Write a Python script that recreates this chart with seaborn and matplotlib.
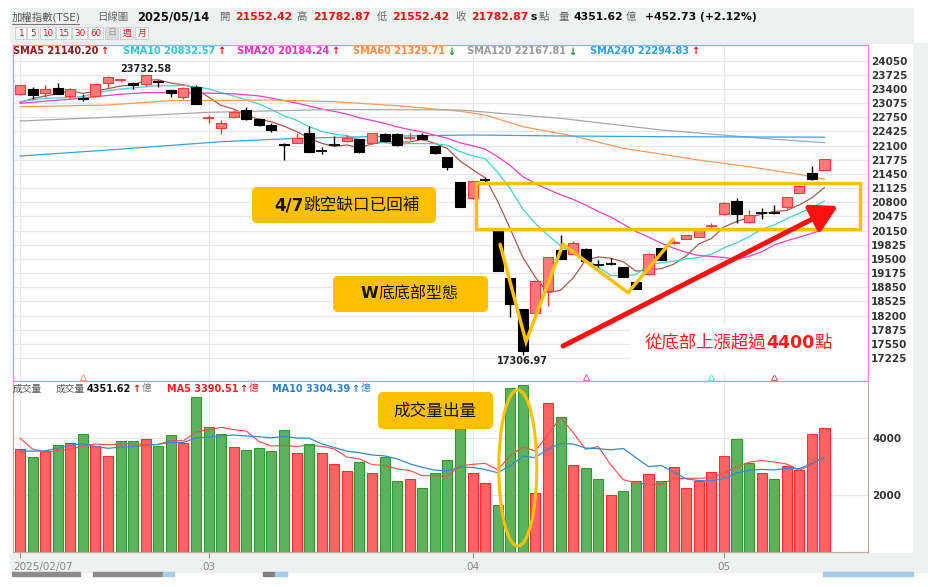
import numpy as np
import pandas as pd
import matplotlib
matplotlib.use("Agg")
import matplotlib.pyplot as plt
import matplotlib.transforms as mtransforms
from matplotlib.patches import Rectangle, FancyBboxPatch, Ellipse
import seaborn as sns

# ---------------- data ----------------
trade_days = pd.bdate_range("2025-02-07", "2025-05-14")
trade_days = trade_days.drop(pd.to_datetime(["2025-02-28", "2025-04-03", "2025-04-04", "2025-05-01"]))

opens = [23279, 23407, 23302, 23423, 23247, 23201, 23247, 23545, 23595, 23545,
         23508, 23591, 23377, 23209, 23453, 22740, 22499, 22765, 22919, 22705,
         22574, 22145, 22168, 22398, 21987, 22131, 22207, 22246, 22168, 22368,
         22368, 22262, 22345, 22092, 21833, 21259, 20892, 21317, 20165, 19056,
         18345, 18253, 18772, 19706, 19614, 19736, 19374, 19410, 19316, 18982,
         19149, 19745, 19857, 19955, 20008, 20248, 20525, 20837, 20355, 20570,
         20575, 20686, 21021, 21478, 21552.42]
highs = [23500, 23453, 23492, 23531, 23423, 23279, 23515, 23690, 23646, 23568,
         23732.58, 23607, 23388, 23453, 23492, 22804, 22689, 22919, 22980, 22735,
         22627, 22150, 22384, 22551, 22062, 22322, 22338, 22264, 22391, 22380,
         22391, 22398, 22398, 22092, 21839, 21266, 21290, 21390, 20188, 19060,
         18352, 19010, 19545, 20040, 19911, 19745, 19477, 19516, 19320, 18990,
         19630, 19750, 19930, 20055, 20185, 20318, 20800, 20892, 20624, 20677,
         20738, 20920, 21205, 21632, 21782.87]
lows = [23260, 23164, 23224, 23286, 23201, 23125, 23228, 23453, 23554, 23407,
        23470, 23453, 23224, 23164, 23045, 22613, 22368, 22746, 22700, 22551,
        22407, 21771, 22150, 21944, 21901, 22092, 22191, 21939, 22161, 22184,
        22092, 22230, 22240, 21909, 21542, 20681, 20880, 21220, 19212, 18175,
        17306.97, 18240, 18421, 19490, 19603, 19450, 19308, 19363, 19080, 18800,
        19140, 19470, 19840, 19950, 20000, 20200, 20520, 20318, 20332, 20417,
        20543, 20647, 21010, 21320, 21552.42]
closes = [23485, 23256, 23394, 23293, 23394, 23164, 23508, 23683, 23600, 23492,
          23730, 23554, 23302, 23416, 23049, 22742, 22613, 22880, 22712, 22574,
          22460, 22108, 22269, 21955, 21977, 22108, 22269, 21955, 22384, 22200,
          22108, 22269, 22255, 21939, 21603, 20686, 21278, 21305, 19231, 18466,
          17392, 19001, 19539, 19506, 19873, 19461, 19355, 19390, 19087, 18808,
          19624, 19477, 19894, 20047, 20177, 20256, 20791, 20525, 20509, 20562,
          20555, 20915, 21166, 21330, 21782.87]
volumes = [3604, 3334, 3533, 3743, 3836, 4129, 3720, 3380, 3884, 3884,
           3977, 3720, 4094, 3825, 5450, 4375, 4129, 3685, 3580, 3650,
           3533, 4270, 3486, 3778, 3474, 3088, 2831, 3158, 2784, 3322,
           2491, 2550, 2234, 2784, 3240, 4340, 2784, 2410, 1649, 5744,
           5860, 2082, 5228, 4726, 3053, 2948, 2550, 2000, 2140, 2491,
           2737, 2491, 2983, 2234, 2491, 2807, 3380, 3965, 3134, 2760,
           2550, 3018, 2877, 4129, 4351.62]

sma5 = [23090, 23180, 23240, 23290, 23364, 23300, 23351, 23408, 23470, 23489,
        23603, 23612, 23536, 23499, 23410, 23213, 23024, 22940, 22799, 22704,
        22648, 22547, 22425, 22273, 22154, 22083, 22116, 22053, 22139, 22183,
        22183, 22183, 22243, 22154, 22035, 21750, 21552, 21362, 20821, 20193,
        19534, 19079, 18726, 18781, 19062, 19476, 19547, 19517, 19433, 19220,
        19253, 19277, 19378, 19570, 19844, 19970, 20233, 20359, 20452, 20529,
        20588, 20613, 20741, 20906, 21140.20]
sma10 = [23110, 23150, 23187, 23195, 23205, 23230, 23300, 23360, 23400, 23427,
         23452, 23481, 23472, 23484, 23450, 23408, 23318, 23238, 23149, 23057,
         22930, 22785, 22682, 22536, 22429, 22365, 22331, 22239, 22206, 22168,
         22133, 22149, 22148, 22146, 22109, 21966, 21867, 21802, 21487, 21114,
         20642, 20315, 20044, 19801, 19627, 19505, 19313, 19121, 19107, 19141,
         19364, 19412, 19447, 19501, 19532, 19611, 19755, 19868, 20011, 20186,
         20279, 20423, 20550, 20679, 20832.57]
sma20 = [23072, 23095, 23120, 23143, 23165, 23195, 23224, 23252, 23280, 23298,
         23316, 23318, 23320, 23315, 23310, 23305, 23300, 23290, 23265, 23242,
         23191, 23133, 23077, 23010, 22940, 22887, 22825, 22739, 22678, 22613,
         22532, 22467, 22415, 22341, 22269, 22166, 22099, 22021, 21847, 21641,
         21388, 21232, 21096, 20974, 20868, 20736, 20590, 20462, 20297, 20128,
         20003, 19864, 19746, 19651, 19580, 19558, 19534, 19495, 19559, 19664,
         19822, 19918, 19999, 20090, 20184.24]
sma60_idx = [0, 7, 12, 17, 20, 25, 30, 35, 37, 40, 44, 48, 54, 58, 62, 64]
sma60_val = [22994, 23033, 23132, 23140, 23148, 23109, 23017, 22890, 22804, 22536,
             22322, 22039, 21771, 21617, 21440, 21329.71]
sma120_idx = [0, 7, 15, 25, 35, 43, 51, 59, 64]
sma120_val = [22666, 22751, 22865, 22930, 22919, 22727, 22460, 22269, 22167.81]
sma240_idx = [0, 7, 16, 22, 30, 36, 43, 51, 64]
sma240_val = [21862, 22000, 22191, 22269, 22320, 22345, 22322, 22306, 22294.83]

vol_ma5 = [3990, 3614, 3500, 3560, 3610, 3715, 3792, 3762, 3790, 3799,
           3769, 3769, 3912, 3900, 4213, 4293, 4375, 4293, 4244, 3884,
           3715, 3744, 3704, 3743, 3708, 3619, 3331, 3266, 3067, 3037,
           2917, 2861, 2676, 2676, 2660, 3030, 3076, 3112, 2885, 3385,
           3689, 3549, 4113, 4728, 4190, 3607, 3701, 3055, 2538, 2426,
           2384, 2372, 2568, 2587, 2587, 2601, 2779, 2975, 3155, 3209,
           3158, 3085, 2868, 3067, 3390.51]
vol_ma10 = [3544, 3540, 3550, 3640, 3740, 3800, 3700, 3640, 3680, 3705,
            3742, 3781, 3837, 3845, 4006, 4031, 4072, 4103, 4072, 4049,
            4004, 4060, 3999, 3994, 3796, 3667, 3538, 3485, 3405, 3373,
            3268, 3096, 2971, 2872, 2849, 2974, 2969, 2894, 2781, 3023,
            3360, 3313, 3613, 3807, 3788, 3648, 3625, 3584, 3633, 3308,
            2996, 3037, 2812, 2563, 2507, 2493, 2576, 2772, 2871, 2898,
            2880, 2932, 2922, 3111, 3304.39]

price_ticks = [17225, 17550, 17875, 18200, 18525, 18850, 19175, 19500, 19825, 20150, 20475,
               20800, 21125, 21450, 21775, 22100, 22425, 22750, 23075, 23400, 23725, 24050]
vol_ticks = [2000, 4000]
month_labels = ["2025/02/07", "03", "04", "05"]

# annotation anchors (candle index, price)
w_x = [38.19, 40.25, 43.2, 48.37, 51.95]
w_y = [19836, 17601, 19836, 18726, 19951]
gap_box = (36.28, 20181, 66.83, 21243)
arrow_from = (43.2, 17502)
arrow_to = (65.07, 20715)

# ---------------- figure ----------------
sns.set_theme(style="white")
plt.rcParams['font.family'] = ['DejaVu Sans', 'Noto Sans CJK TC']

W, H = 929, 587
fig = plt.figure(figsize=(W / 100, H / 100), dpi=100, facecolor='white')


def rect(x0, y0, x1, y1):
    return [x0 / W, 1 - y1 / H, (x1 - x0) / W, (y1 - y0) / H]


# page background (under the chart axes)
ax_back = fig.add_axes([0, 0, 1, 1])
ax_back.set_xlim(0, W)
ax_back.set_ylim(H, 0)
ax_back.axis('off')
GRAY_BG = '#eff0f0'
ax_back.add_patch(Rectangle((10, 8), 903, 35, color=GRAY_BG))
ax_back.add_patch(Rectangle((10, 553), 903, 19, color=GRAY_BG))
ax_back.add_patch(Rectangle((913, 43), 16, 529, color=GRAY_BG))
for bx, bw, bc in [(12, 68, '#8c8c8c'), (93, 70, '#8c8c8c'), (163, 11, '#a8cce8'),
                   (263, 11, '#808080'), (275, 12, '#a8cce8'), (823, 90, '#a8cce8')]:
    ax_back.add_patch(Rectangle((bx, 572), bw, 4, color=bc))

ax_p = fig.add_axes(rect(13, 45, 868, 381))
ax_v = fig.add_axes(rect(13, 383, 868, 552))

n = len(closes)
x = np.arange(n)
o, h, l, c = map(np.array, (opens, highs, lows, closes))
XLIM = (-0.557, 67.46)

s = pd.Series(np.arange(n), index=trade_days)
month_pos = s.groupby(trade_days.to_period('M')).first().values

RED_FACE, RED_EDGE = '#ff7b7b', '#ff3838'
GRID = '#e7e7e7'

# price panel
for p in month_pos:
    ax_p.axvline(p, color=GRID, lw=0.9, zorder=0)

ma_lines = [(x, sma5, '#a85a50'), (x, sma10, '#45d2d2'), (x, sma20, '#f040c0'),
            (sma60_idx, sma60_val, '#ff9a5c'), (sma120_idx, sma120_val, '#a8a8a8'),
            (sma240_idx, sma240_val, '#3aa3dc')]
for xs, ys, col in ma_lines:
    sns.lineplot(x=xs, y=ys, ax=ax_p, color=col, linewidth=0.9, estimator=None,
                 sort=False, legend=False, zorder=2)

rise = c >= o
wick_col = np.where(rise, RED_EDGE, 'black')
ax_p.vlines(x, l, h, colors=wick_col, lw=1.0, zorder=3)
body = np.abs(c - o)
flat = body < 30
face = np.where(rise, RED_FACE, 'black')
ax_p.bar(x[~flat], body[~flat], bottom=np.minimum(o, c)[~flat], width=0.8,
         color=face[~flat], edgecolor=wick_col[~flat], linewidth=0.8, zorder=4)
ax_p.hlines(c[flat], x[flat] - 0.42, x[flat] + 0.42, colors=wick_col[flat], lw=1.3, zorder=4)

i_hi, i_lo = int(np.argmax(h)), int(np.argmin(l))
ax_p.annotate(f"{h[i_hi]:.2f}", xy=(i_hi, h[i_hi]), xytext=(0, 6), textcoords='offset pixels',
              ha='center', va='center', fontsize=7, fontweight='bold', color='#222')
ax_p.annotate(f"{l[i_lo]:.2f}", xy=(i_lo, l[i_lo]), xytext=(0, -6), textcoords='offset pixels',
              ha='center', va='center', fontsize=7, fontweight='bold', color='#222')

# crossover marks at the panel bottom
mk_tr = mtransforms.blended_transform_factory(ax_p.transData, ax_p.transAxes)
for mi, mc in zip([5, 45, 55, 60], ['#ff9a9a', '#f060c8', '#60dede', '#a07070']):
    ax_p.plot([mi], [0.013], marker='^', ms=4.5, mfc='none', mec=mc, mew=0.8,
              transform=mk_tr, clip_on=False, zorder=5)

# W pattern, gap box, arrow
ax_p.plot(w_x, w_y, color='#ffc000', lw=2.5, solid_joinstyle='miter', zorder=6)
ax_p.add_patch(Rectangle((gap_box[0], gap_box[1]), gap_box[2] - gap_box[0], gap_box[3] - gap_box[1],
                         fill=False, ec='#ffc000', lw=2.5, zorder=6))
ax_p.annotate('', xy=arrow_to, xytext=arrow_from,
              arrowprops=dict(arrowstyle='-|>,head_length=0.8,head_width=0.45', mutation_scale=20,
                              lw=3.6, color='#ff1010', shrinkA=0, shrinkB=0), zorder=6)

ax_p.set_xlim(*XLIM)
ax_p.set_ylim(16699, 24410)
ax_p.set_xticks([])
ax_p.set_yticks(price_ticks)
ax_p.yaxis.tick_right()
ax_p.tick_params(axis='y', length=0, pad=2, labelsize=7.5, labelcolor='#333')
for t in ax_p.get_yticklabels():
    t.set_fontweight('bold')
ax_p.grid(True, axis='y', color=GRID, lw=0.9)
ax_p.set_axisbelow(True)
for sp in ax_p.spines.values():
    sp.set_color('#ff88ff')
    sp.set_linewidth(1.0)
ax_p.set_xlabel('')
ax_p.set_ylabel('')

# volume panel
for p in month_pos:
    ax_v.axvline(p, color=GRID, lw=0.9, zorder=0)
vol_up = np.r_[True, c[1:] >= c[:-1]]
ax_v.bar(x, volumes, width=0.8, color=np.where(vol_up, '#ff6464', '#5db35d'),
         edgecolor=np.where(vol_up, '#ff2e2e', '#2f9b2f'), linewidth=0.8, zorder=3)
sns.lineplot(x=x, y=vol_ma5, ax=ax_v, color='#ff4a4a', linewidth=0.8, estimator=None,
             legend=False, zorder=4)
sns.lineplot(x=x, y=vol_ma10, ax=ax_v, color='#3a88cc', linewidth=0.9, estimator=None,
             legend=False, zorder=4)
ax_v.add_patch(Ellipse((39.6, 2947), 3.02, 5474, fill=False, ec='#ffc000', lw=2.2, zorder=6))
ax_v.set_xlim(*XLIM)
ax_v.set_ylim(0, 5930)
ax_v.set_yticks(vol_ticks)
ax_v.yaxis.tick_right()
ax_v.tick_params(axis='y', length=0, pad=3, labelsize=7.5, labelcolor='#333')
for t in ax_v.get_yticklabels():
    t.set_fontweight('bold')
ax_v.set_xticks(month_pos)
ax_v.set_xticklabels(month_labels)
ax_v.tick_params(axis='x', bottom=True, length=4, width=0.8, color='#999', pad=3,
                 labelsize=7.5, labelcolor='#888')
first = ax_v.get_xticklabels()[0]
first.set_ha('left')
first.set_transform(first.get_transform() + mtransforms.ScaledTranslation(-7 / 100, 0, fig.dpi_scale_trans))
ax_v.grid(True, axis='y', color=GRID, lw=0.9)
ax_v.set_axisbelow(True)
for sp in ax_v.spines.values():
    sp.set_color('#b8b0a8')
    sp.set_linewidth(0.9)
ax_v.spines['top'].set_visible(False)
ax_v.set_xlabel('')
ax_v.set_ylabel('')

# ---------------- overlay in pixel coordinates ----------------
ax_bg = fig.add_axes([0, 0, 1, 1])
ax_bg.set_xlim(0, W)
ax_bg.set_ylim(H, 0)
ax_bg.axis('off')


def chain(prev, txt, dx=1.0, **kw):
    return ax_bg.annotate(txt, xy=(1, 0.5), xycoords=prev, xytext=(dx, 0),
                          textcoords='offset pixels', ha='left', va='center', **kw)


def put(xp, yp, txt, **kw):
    return ax_bg.text(xp, yp, txt, ha='left', va='center', **kw)


# header row
hy = 17
GR = '#666'
RD = '#ee1111'
put(12, hy, "加權指數(TSE)", fontsize=7.5, color='#555')
ax_bg.plot([12, 79], [24, 24], color='#777', lw=0.8)
put(97, hy, "日線圖", fontsize=7.5, color=GR)
put(137, hy, "2025/05/14", fontsize=8.3, fontweight='bold', color='#111')
for lab, lx, val, vx in [("開", 219, "21552.42", 235), ("高", 296, "21782.87", 313),
                         ("低", 377, "21552.42", 392), ("收", 455, "21782.87", 471)]:
    put(lx, hy, lab, fontsize=7.5, color=GR)
    put(vx, hy, val, fontsize=7.8, fontweight='bold', color=RD)
put(531, hy, "s", fontsize=7.8, fontweight='bold', color='#111')
put(539, hy, "點", fontsize=7.5, color=GR)
put(559, hy, "量", fontsize=7.5, color=GR)
put(574, hy, "4351.62", fontsize=7.8, fontweight='bold', color='#111')
put(626, hy, "億", fontsize=7.5, color=GR)
put(645, hy, "+452.73 (+2.12%)", fontsize=7.8, fontweight='bold', color='#111')

# period buttons
btn_labels = ["1", "5", "10", "15", "30", "60", "日", "週", "月"]
btn_cx = [21, 33, 48, 64, 80, 96, 112, 127, 142]
btn_w = [11, 11, 15, 15, 15, 15, 13, 13, 13]
for bl, bcx, bw in zip(btn_labels, btn_cx, btn_w):
    sel = bl == "日"
    ax_bg.add_patch(Rectangle((bcx - bw / 2, 27), bw, 12, fc='#dcdcdc' if sel else 'white',
                              ec='#cccccc', lw=0.6, zorder=1))
    ax_bg.text(bcx, 33, bl, ha='center', va='center', fontsize=6.3,
               color='#999' if sel else '#ee1111', zorder=2)

# SMA legend row
ly = 51.5
UP, DN = ('↑', '#ee1111'), ('↓', '#1a8a2a')
for txt, lx, col, arr in [("SMA5 21140.20", 13, '#8b1a1a', UP), ("SMA10 20832.57", 123, '#30c8c8', UP),
                          ("SMA20 20184.24", 237, '#f030c0', UP), ("SMA60 21329.71", 353, '#ff8c40', DN),
                          ("SMA120 22167.81", 467, '#9a9a9a', DN), ("SMA240 22294.83", 590, '#2a9ee0', UP)]:
    t = put(lx, ly, txt, fontsize=7, fontweight='bold', color=col)
    chain(t, arr[0], dx=2, fontsize=7, fontweight='bold', color=arr[1])

# volume legend row
vy = 388.5
put(13, vy, "成交量", fontsize=7, color='#555')
put(56, vy, "成交量", fontsize=7, color='#555')
t = put(87, vy, "4351.62", fontsize=7, fontweight='bold', color='#111')
t = chain(t, "↑", fontsize=7, fontweight='bold', color='#ee1111')
chain(t, "億", fontsize=7, color='#777')
t = put(167, vy, "MA5 3390.51", fontsize=7, fontweight='bold', color='#ee2222')
t = chain(t, "↑", fontsize=7, fontweight='bold', color='#ee2222')
chain(t, "億", fontsize=7, color='#ee2222')
t = put(272, vy, "MA10 3304.39", fontsize=7, fontweight='bold', color='#2a7fc8')
t = chain(t, "↑", fontsize=7, fontweight='bold', color='#2a7fc8')
chain(t, "億", fontsize=7, color='#2a7fc8')

# yellow call-out boxes
YEL = '#ffc000'
for bx0, by0, bw, bh in [(252, 187, 184, 36), (333, 276, 155, 36), (378, 392, 115, 37)]:
    ax_bg.add_patch(FancyBboxPatch((bx0, by0), bw, bh, boxstyle='round,pad=0,rounding_size=5',
                                   fc=YEL, ec='none', zorder=3))
t = put(274, 205, "4/7", fontsize=12, fontweight='bold', color='#111', zorder=4)
chain(t, "跳空缺口已回補", dx=0, fontsize=12, color='#111', zorder=4)
t = put(361, 294, "W", fontsize=11.5, fontweight='bold', color='#111', zorder=4)
chain(t, "底底部型態", dx=0, fontsize=11.5, color='#111', zorder=4)
ax_bg.text(435.5, 411, "成交量出量", ha='center', va='center', fontsize=12, color='#111', zorder=4)

# red note
ax_bg.add_patch(Rectangle((630, 325), 236, 49, color='white', zorder=3))
RN = '#ff1c1c'
t = put(645, 343, "從底部上漲超過", fontsize=12.5, color=RN, zorder=4)
t = chain(t, "4400", dx=0, fontsize=12.5, fontweight='bold', color=RN, zorder=4)
chain(t, "點", dx=0, fontsize=12.5, color=RN, zorder=4)

fig.savefig('out.png', dpi=100, facecolor='white')
